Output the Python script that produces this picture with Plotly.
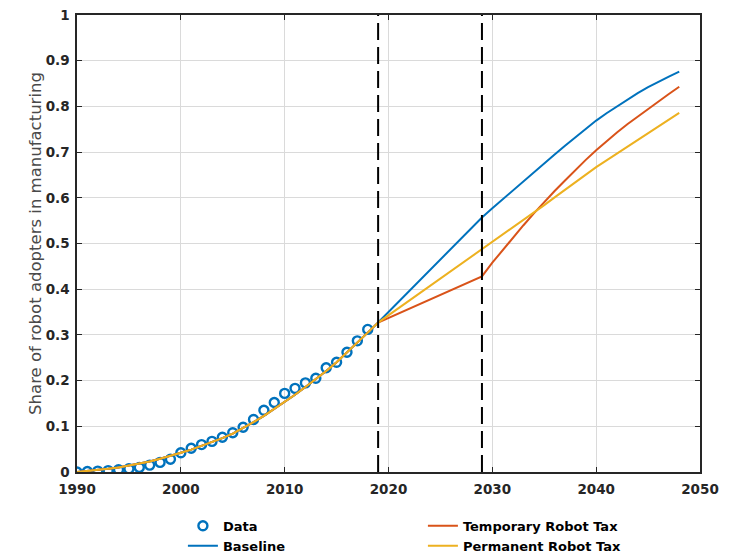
import plotly.graph_objects as go

# ---------------- data ----------------
data_years = list(range(1990, 2019))
data_share = [0.000, 0.001, 0.002, 0.003, 0.005, 0.007, 0.010, 0.015, 0.021, 0.028,
              0.042, 0.052, 0.060, 0.067, 0.076, 0.086, 0.098, 0.115, 0.135, 0.152,
              0.172, 0.183, 0.195, 0.205, 0.228, 0.240, 0.262, 0.287, 0.312]

hist_years = list(range(1990, 2019))
model_hist = [0.000, 0.002, 0.004, 0.007, 0.010, 0.014, 0.018, 0.023, 0.029, 0.035,
              0.042, 0.049, 0.057, 0.065, 0.074, 0.084, 0.096, 0.109, 0.123, 0.138,
              0.153, 0.169, 0.186, 0.203, 0.221, 0.240, 0.261, 0.283, 0.305]

proj_years = list(range(2019, 2049))
baseline_proj = [0.327, 0.350, 0.373, 0.397, 0.421, 0.444, 0.467, 0.490, 0.513, 0.535,
                 0.557, 0.577, 0.597, 0.617, 0.637, 0.657, 0.676, 0.695, 0.714, 0.733,
                 0.751, 0.769, 0.785, 0.800, 0.815, 0.829, 0.842, 0.854, 0.865, 0.876]
temporary_proj = [0.327, 0.337, 0.347, 0.357, 0.367, 0.377, 0.387, 0.397, 0.407, 0.417,
                  0.428, 0.458, 0.486, 0.513, 0.540, 0.566, 0.591, 0.615, 0.638, 0.661,
                  0.683, 0.704, 0.724, 0.743, 0.761, 0.778, 0.795, 0.811, 0.827, 0.843]
permanent_proj = [0.327, 0.343, 0.359, 0.375, 0.391, 0.407, 0.423, 0.439, 0.455, 0.470,
                  0.486, 0.502, 0.518, 0.534, 0.550, 0.567, 0.584, 0.601, 0.618, 0.635,
                  0.651, 0.667, 0.682, 0.697, 0.712, 0.727, 0.742, 0.757, 0.772, 0.786]

policy_years = [2019, 2029]

x_tick_vals = [1990, 2000, 2010, 2020, 2030, 2040, 2050]
x_tick_labels = ["1990", "2000", "2010", "2020", "2030", "2040", "2050"]
y_tick_vals = [0, 0.1, 0.2, 0.3, 0.4, 0.5, 0.6, 0.7, 0.8, 0.9, 1.0]
y_tick_labels = ["0", "0.1", "0.2", "0.3", "0.4", "0.5", "0.6", "0.7", "0.8", "0.9", "1"]

series_names = ["Data", "Baseline", "Temporary Robot Tax", "Permanent Robot Tax"]

# ---------------- styles ----------------
BLUE = "#0072BD"
RED = "#D95319"
YELLOW = "#EDB120"
AX = "#262626"

full_years = hist_years + proj_years

fig = go.Figure()
fig.add_trace(go.Scatter(
    x=data_years, y=data_share, mode="markers", name=series_names[0],
    marker=dict(symbol="circle-open", size=9, color=BLUE, line=dict(width=2.4, color=BLUE)),
    legendrank=1))
fig.add_trace(go.Scatter(
    x=full_years, y=model_hist + baseline_proj, mode="lines", name=series_names[1],
    line=dict(color=BLUE, width=2), legendrank=3))
fig.add_trace(go.Scatter(
    x=full_years, y=model_hist + temporary_proj, mode="lines", name=series_names[2],
    line=dict(color=RED, width=2), legendrank=2))
fig.add_trace(go.Scatter(
    x=full_years, y=model_hist + permanent_proj, mode="lines", name=series_names[3],
    line=dict(color=YELLOW, width=2), legendrank=4))

for yr in policy_years:
    fig.add_vline(x=yr, line=dict(color="black", width=2, dash="17px,7px"))

tick_font = dict(family="DejaVu Sans", size=13.5, color=AX, weight="bold")

fig.update_layout(
    width=729, height=556,
    margin=dict(l=77, r=29, t=15, b=84, autoexpand=False),
    plot_bgcolor="white", paper_bgcolor="white",
    showlegend=True,
    legend=dict(orientation="h", x=0.17, xanchor="left", y=-0.085, yanchor="top",
                entrywidth=195, entrywidthmode="pixels", traceorder="normal",
                font=dict(family="DejaVu Sans", size=13, color="black", weight="bold"),
                bgcolor="rgba(0,0,0,0)"),
    xaxis=dict(range=[1990, 2050], tickvals=x_tick_vals, ticktext=x_tick_labels,
               showgrid=True, gridcolor="#dadada", gridwidth=1, zeroline=False,
               showline=True, linecolor=AX, linewidth=1.5, mirror="allticks",
               ticks="inside", ticklen=5, tickwidth=1.2, tickcolor=AX,
               tickfont=tick_font, ticklabelstandoff=4),
    yaxis=dict(range=[0, 1], tickvals=y_tick_vals, ticktext=y_tick_labels,
               showgrid=True, gridcolor="#dadada", gridwidth=1, zeroline=False,
               showline=True, linecolor=AX, linewidth=1.5, mirror="allticks",
               ticks="inside", ticklen=5, tickwidth=1.2, tickcolor=AX,
               tickfont=tick_font, ticklabelstandoff=3,
               title=dict(text="Share of robot adopters in manufacturing",
                          font=dict(family="DejaVu Sans", size=16.5, color="#4a4a4a"),
                          standoff=0)),
)

fig.write_html("out.html")
